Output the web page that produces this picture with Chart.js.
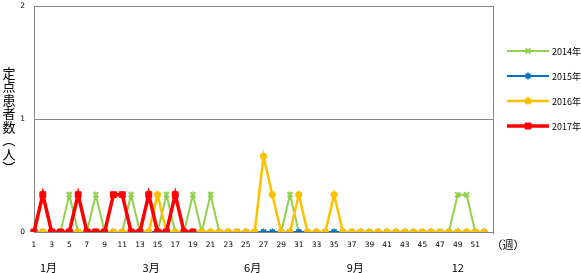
<!DOCTYPE html>
<html><head><meta charset="utf-8">
<script src="https://cdn.jsdelivr.net/npm/chart.js@4"></script>
<style>html,body{margin:0;padding:0;background:#fff;overflow:hidden}#wrap{width:581px;height:273px;position:relative}</style>
</head><body><div id="wrap"><canvas id="c" width="581" height="273"></canvas></div>
<script>
// ---- data ----
const weeks = ['1','2','3','4','5','6','7','8','9','10','11','12','13','14','15','16','17','18','19','20',
  '21','22','23','24','25','26','27','28','29','30','31','32','33','34','35','36','37','38','39','40',
  '41','42','43','44','45','46','47','48','49','50','51','52','53'];
const series2014 = [0,0,0,0,0.33,0,0,0.33,0,0,0,0.33,0,0,0,0.33,0,0,0.33,0,
  0.33,0,0,0,0,0,0,0,0,0.33,0,0,0,0,0,0,0,0,0,0,
  0,0,0,0,0,0,0,0,0.33,0.33,0,0];
const series2015 = [0,0,0,0,0,0,0,0,0,0,0,0,0,0,0,0,0,0,0,0,
  0,0,0,0,0,0,0,0,0,0,0,0,0,0,0,0,0,0,0,0,
  0,0,0,0,0,0,0,0,0,0,0,0];
const series2016 = [0,0,0,0,0,0,0,0,0,0,0,0,0,0,0.33,0,0,0,0,0,
  0,0,0,0,0,0,0.67,0.33,0,0,0.33,0,0,0,0.33,0,0,0,0,0,
  0,0,0,0,0,0,0,0,0,0,0,0];
const series2017 = [0,0.33,0,0,0,0.33,0,0,0,0.33,0.33,0,0,0.33,0,0,0.33,0,0];
const seriesLabels = ['2014年','2015年','2016年','2017年'];
const yTitle = '定点患者数（人）';
const xUnit = '（週）';
const monthLabels = ['1月','3月','6月','9月','12'];

const GRID = '#868686';
const numFont = "'DejaVu Sans', sans-serif";
const jpFont = "'Noto Sans CJK JP', sans-serif";

const extras = {
  id: 'extras',
  afterDraw(chart) {
    const ctx = chart.ctx;
    const a = chart.chartArea;
    const xs = chart.scales.x;
    ctx.save();
    // right border of plot area
    ctx.strokeStyle = GRID; ctx.lineWidth = 1;
    ctx.beginPath(); ctx.moveTo(Math.round(a.right)+0.5, a.top); ctx.lineTo(Math.round(a.right)+0.5, a.bottom+2); ctx.stroke();
    // y title (vertical, stacked)
    ctx.fillStyle = '#000';
    ctx.font = '13px ' + jpFont;
    ctx.textAlign = 'center'; ctx.textBaseline = 'middle';
    const chars = Array.from(yTitle);
    let y = 73;
    chars.forEach(ch => {
      if (ch === '（' || ch === '）') {
        ctx.save(); ctx.translate(9, y); ctx.rotate(Math.PI/2); ctx.fillText(ch, 0, 0); ctx.restore();
      } else {
        ctx.fillText(ch, 9, y);
      }
      y += 13.5;
    });
    // x unit
    ctx.font = '11px ' + jpFont;
    ctx.fillText(xUnit, 508, 245);
    // month labels
    const monthPos = [1.64, 13.27, 24.77, 36.4, 48.02];
    monthLabels.forEach((m, i) => {
      ctx.fillText(m, xs.getPixelForValue(monthPos[i]), 268);
    });
    // legend
    chart.data.datasets.forEach((ds, i) => {
      const ly = 51 + i * 25;
      ctx.strokeStyle = ds.borderColor; ctx.lineWidth = ds.borderWidth;
      ctx.beginPath(); ctx.moveTo(507, ly); ctx.lineTo(549, ly); ctx.stroke();
      ctx.fillStyle = ds.pointBackgroundColor; ctx.strokeStyle = ds.pointBorderColor;
      ctx.lineWidth = ds.pointBorderWidth;
      Chart.helpers.drawPoint(ctx, {pointStyle: ds.pointStyle, radius: ds.pointRadius, borderWidth: ds.pointBorderWidth, rotation: 0}, 528, ly);
      ctx.fillStyle = '#000';
      ctx.textAlign = 'left';
      ctx.font = '9px ' + jpFont;
      ctx.fillText(ds.label, 552, ly + 1);
    });
    ctx.restore();
  }
};

function mk(label, data, color, width, style, radius, pbw, order) {
  return {label, data, borderColor: color, backgroundColor: color, pointBackgroundColor: color,
    pointBorderColor: color, borderWidth: width, pointStyle: style, pointRadius: radius,
    pointBorderWidth: pbw, tension: 0, fill: false, order};
}

new Chart(document.getElementById('c'), {
  type: 'line',
  data: {
    labels: weeks,
    datasets: [
      mk(seriesLabels[0], series2014, '#92D050', 2, 'crossRot', 3.5, 2, 4),
      mk(seriesLabels[1], series2015, '#0070C0', 2, 'star', 3.5, 1.5, 3),
      mk(seriesLabels[2], series2016, '#FFC000', 2.5, 'circle', 3.2, 1, 2),
      mk(seriesLabels[3], series2017, '#FF0000', 3.5, 'rect', 4.2, 1, 1)
    ]
  },
  options: {
    responsive: false, animation: false, devicePixelRatio: 1,
    layout: {padding: {top: 3, right: 88, left: 0, bottom: 0}},
    plugins: {legend: {display: false}, tooltip: {enabled: false}},
    scales: {
      x: {
        type: 'category', offset: false,
        grid: {display: false, drawTicks: false},
        border: {display: true, color: GRID},
        ticks: {autoSkip: false, maxRotation: 0, minRotation: 0, padding: 9, color: '#000',
          font: {family: numFont, size: 7.5},
          callback: (v, i) => (i % 2 === 0 && i < 52) ? weeks[i] : ''},
        afterFit: s => { s.height = 41; s.paddingLeft = 0; s.paddingRight = 0; }
      },
      y: {
        min: 0, max: 2,
        grid: {color: GRID, drawTicks: false},
        border: {display: true, color: GRID},
        ticks: {stepSize: 1, padding: 9, color: '#000', font: {family: numFont, size: 7.5}},
        afterFit: s => { s.width = 34; s.paddingTop = 0; s.paddingBottom = 0; }
      }
    }
  },
  plugins: [extras]
});
</script></body></html>
